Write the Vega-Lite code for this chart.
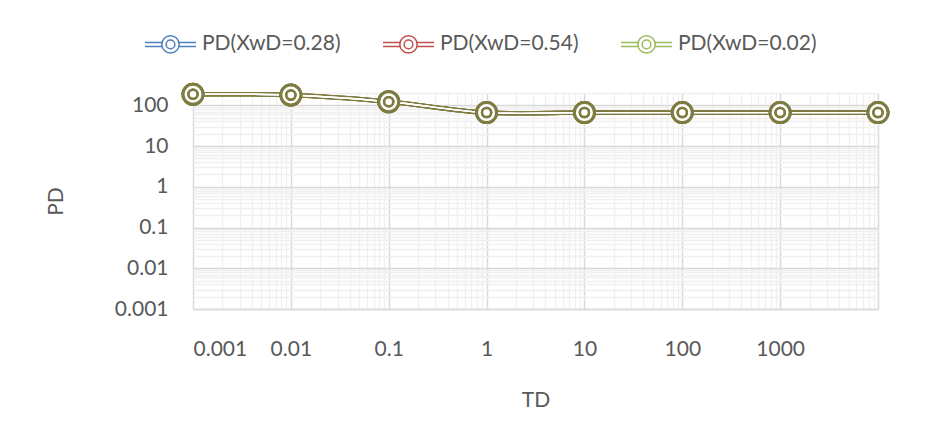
{
  "$schema": "https://vega.github.io/schema/vega-lite/v6.json",
  "width": 685,
  "height": 216,
  "autosize": {"type": "none"},
  "padding": {"left": 193, "top": 93, "right": 50, "bottom": 134},
  "background": "white",
  "config": {
    "view": {"stroke": null},
    "font": "Lato",
    "axis": {"labelFont": "Lato", "titleFont": "Lato", "labelFontSize": 21, "titleFontSize": 21, "labelColor": "#595959", "titleColor": "#595959", "titleFontWeight": "normal"}
  },
  "data": {
    "values": [
      {"series": "PD(XwD=0.28)", "TD": 0.001, "PD": 186},
      {"series": "PD(XwD=0.28)", "TD": 0.01, "PD": 178},
      {"series": "PD(XwD=0.28)", "TD": 0.1, "PD": 122},
      {"series": "PD(XwD=0.28)", "TD": 1, "PD": 66},
      {"series": "PD(XwD=0.28)", "TD": 10, "PD": 66},
      {"series": "PD(XwD=0.28)", "TD": 100, "PD": 66},
      {"series": "PD(XwD=0.28)", "TD": 1000, "PD": 66},
      {"series": "PD(XwD=0.28)", "TD": 10000, "PD": 66},
      {"series": "PD(XwD=0.54)", "TD": 0.001, "PD": 186},
      {"series": "PD(XwD=0.54)", "TD": 0.01, "PD": 178},
      {"series": "PD(XwD=0.54)", "TD": 0.1, "PD": 122},
      {"series": "PD(XwD=0.54)", "TD": 1, "PD": 66},
      {"series": "PD(XwD=0.54)", "TD": 10, "PD": 66},
      {"series": "PD(XwD=0.54)", "TD": 100, "PD": 66},
      {"series": "PD(XwD=0.54)", "TD": 1000, "PD": 66},
      {"series": "PD(XwD=0.54)", "TD": 10000, "PD": 66},
      {"series": "PD(XwD=0.02)", "TD": 0.001, "PD": 186},
      {"series": "PD(XwD=0.02)", "TD": 0.01, "PD": 178},
      {"series": "PD(XwD=0.02)", "TD": 0.1, "PD": 122},
      {"series": "PD(XwD=0.02)", "TD": 1, "PD": 66},
      {"series": "PD(XwD=0.02)", "TD": 10, "PD": 66},
      {"series": "PD(XwD=0.02)", "TD": 100, "PD": 66},
      {"series": "PD(XwD=0.02)", "TD": 1000, "PD": 66},
      {"series": "PD(XwD=0.02)", "TD": 10000, "PD": 66}
    ]
  },
  "resolve": {"axis": {"x": "independent", "y": "independent"}},
  "layer": [
    {
      "mark": {"type": "point", "opacity": 0},
      "encoding": {
        "x": {"field": "TD", "type": "quantitative", "scale": {"type": "log", "domain": [0.001, 10000], "nice": false},
          "axis": {"orient": "top", "values": [0.002,0.003,0.004,0.005,0.006,0.007,0.008,0.009,0.02,0.03,0.04,0.05,0.06,0.07,0.08,0.09,0.2,0.3,0.4,0.5,0.6,0.7,0.8,0.9,2,3,4,5,6,7,8,9,20,30,40,50,60,70,80,90,200,300,400,500,600,700,800,900,2000,3000,4000,5000,6000,7000,8000,9000], "grid": true, "gridColor": "#f0f0f0", "gridWidth": 1.3, "labels": false, "ticks": false, "domain": false, "title": null}},
        "y": {"field": "PD", "type": "quantitative", "scale": {"type": "log", "domain": [0.001, 200], "nice": false},
          "axis": {"orient": "right", "values": [0.002,0.003,0.004,0.005,0.006,0.007,0.008,0.009,0.02,0.03,0.04,0.05,0.06,0.07,0.08,0.09,0.2,0.3,0.4,0.5,0.6,0.7,0.8,0.9,2,3,4,5,6,7,8,9,20,30,40,50,60,70,80,90,200], "grid": true, "gridColor": "#f0f0f0", "gridWidth": 1.3, "labels": false, "ticks": false, "domain": false, "title": null}}
      }
    },
    {
      "mark": {"type": "point", "opacity": 0},
      "encoding": {
        "x": {"field": "TD", "type": "quantitative",
          "axis": {"values": [0.001, 0.01, 0.1, 1, 10, 100, 1000, 10000], "labelExpr": "datum.value >= 10000 ? '' : format(datum.value, '~g')", "grid": true, "gridColor": "#d9d9d9", "gridWidth": 1.5, "ticks": false, "domain": true, "domainColor": "#d9d9d9", "domainWidth": 1.5, "labelPadding": 29, "title": "TD", "titlePadding": 30}},
        "y": {"field": "PD", "type": "quantitative",
          "axis": {"values": [0.001, 0.01, 0.1, 1, 10, 100], "format": "~g", "grid": true, "gridColor": "#d9d9d9", "gridWidth": 1.5, "ticks": false, "domain": false, "labelPadding": 25, "title": "PD", "titlePadding": 48}}
      }
    },
    {
      "mark": {"type": "line", "color": "#7f7c42", "strokeWidth": 4.5, "interpolate": "catmull-rom"},
      "encoding": {
        "x": {"field": "TD", "type": "quantitative", "axis": null},
        "y": {"field": "PD", "type": "quantitative", "axis": null},
        "detail": {"field": "series"}
      }
    },
    {
      "mark": {"type": "line", "color": "#ffffff", "strokeWidth": 1.4, "interpolate": "catmull-rom"},
      "encoding": {
        "x": {"field": "TD", "type": "quantitative", "axis": null},
        "y": {"field": "PD", "type": "quantitative", "axis": null},
        "detail": {"field": "series"}
      }
    },
    {
      "mark": {"type": "point", "shape": "circle", "size": 400, "fill": "#ffffff", "stroke": "#7f7c42", "strokeWidth": 3, "opacity": 1, "fillOpacity": 1},
      "encoding": {
        "x": {"field": "TD", "type": "quantitative", "axis": null},
        "y": {"field": "PD", "type": "quantitative", "axis": null}
      }
    },
    {
      "mark": {"type": "point", "shape": "circle", "size": 81, "fill": "#ffffff", "stroke": "#7f7c42", "strokeWidth": 2.5, "opacity": 1, "fillOpacity": 1},
      "encoding": {
        "x": {"field": "TD", "type": "quantitative", "axis": null},
        "y": {"field": "PD", "type": "quantitative", "axis": null}
      }
    },
    {
      "mark": {"type": "point", "filled": false, "opacity": 0},
      "encoding": {
        "x": {"field": "TD", "type": "quantitative", "axis": null},
        "y": {"field": "PD", "type": "quantitative", "axis": null},
        "color": {"field": "series", "type": "nominal",
          "scale": {"domain": ["PD(XwD=0.28)", "PD(XwD=0.54)", "PD(XwD=0.02)"], "range": ["#4F81BD", "#C0504D", "#9BBB59"]},
          "legend": {"orient": "none", "legendX": -49, "legendY": -75.5, "direction": "horizontal", "title": null, "padding": 0,
            "symbolType": "M-1,-0.08L-0.3,-0.08M-1,0.08L-0.3,0.08M0.3,-0.08L1,-0.08M0.3,0.08L1,0.08M0.34,0A0.34,0.34,0,1,1,-0.34,0A0.34,0.34,0,1,1,0.34,0M0.17,0A0.17,0.17,0,1,1,-0.17,0A0.17,0.17,0,1,1,0.17,0",
            "symbolSize": 2601, "symbolStrokeWidth": 1.5, "symbolOpacity": 1, "symbolFillColor": "transparent",
            "labelFont": "Lato", "labelFontSize": 21, "labelColor": "#595959", "labelOffset": 5, "columnPadding": 39, "labelLimit": 300}}
      }
    }
  ]
}
